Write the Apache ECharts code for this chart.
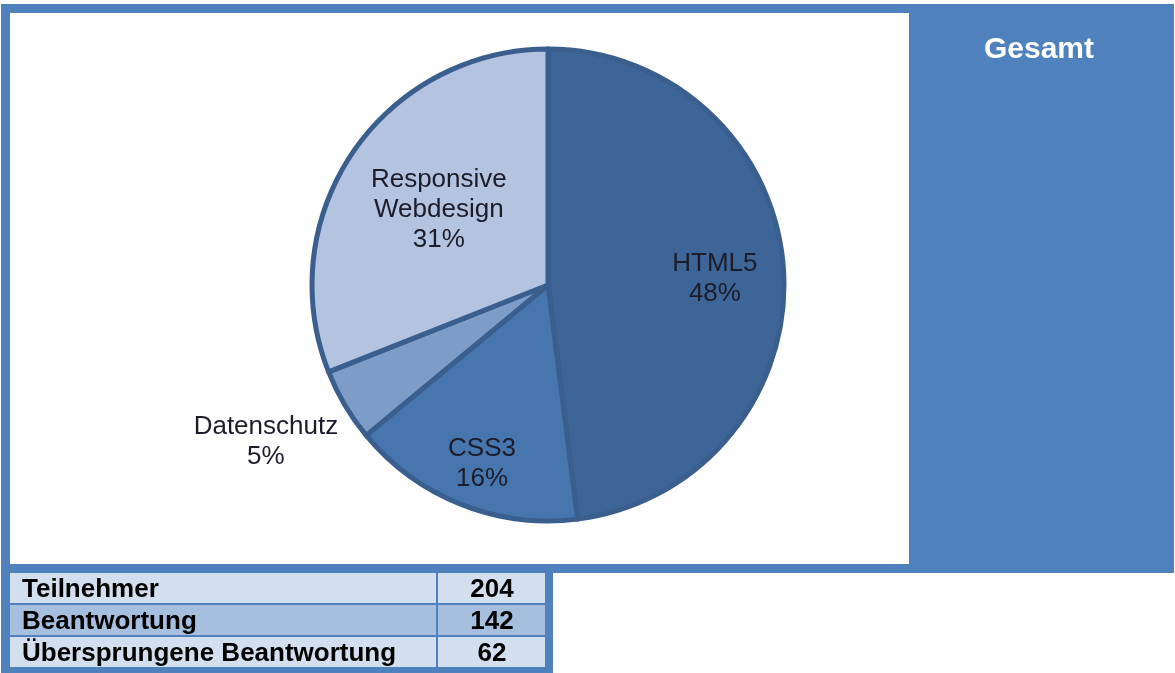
<!DOCTYPE html>
<html>
<head>
<meta charset="utf-8">
<title>Gesamt</title>
<script src="https://cdn.jsdelivr.net/npm/echarts@6/dist/echarts.min.js"></script>
<style>
  html, body { margin: 0; padding: 0; background: #ffffff; }
  #chart { width: 1175px; height: 673px; }
</style>
</head>
<body>
<div id="chart"></div>
<script>
// Survey topics and their share of the answers (percent)
const categories = ['HTML5', 'CSS3', 'Datenschutz', 'Responsive Webdesign'];
const shares = [48, 16, 5, 31];

// Summary table below the chart
const tableLabels = ['Teilnehmer', 'Beantwortung', 'Übersprungene Beantwortung'];
const tableValues = [204, 142, 62];

const panelTitle = 'Gesamt';

// Styling
const FONT = '"Liberation Sans", Arial, Helvetica, sans-serif';
const frameBlue = '#4F81BD';
const sliceColors = ['#3E6597', '#4776AE', '#7E9CC8', '#B4C3DF'];
const sliceBorder = '#3A5E8E';
const rowColors = ['#D3DFEE', '#A7BFDE', '#D3DFEE'];
const pieCenter = [548, 285];
const pieRadius = 236;
// label placement: distance from the centre (fraction of radius) and a small turn (degrees) off the slice's mid angle
const labelRadius = [0.708, 0.80, 1.364, 0.566];
const labelTurn = [0.9, -1.15, 1.8, 1.0];
const labelBaselineShift = 2;

// mid angle of each slice, measured clockwise from 12 o'clock
const total = shares.reduce(function (a, b) { return a + b; }, 0);
const midAngles = [];
shares.reduce(function (cum, s) {
  midAngles.push((cum + s / 2) / total * 360);
  return cum + s;
}, 0);

const chart = echarts.init(document.getElementById('chart'), null, { renderer: 'canvas' });

// Frame, white plot area and side panel
const graphics = [
  { type: 'rect', z: -20, shape: { x: 1, y: 4, width: 1173, height: 569 }, style: { fill: frameBlue } },
  { type: 'rect', z: -19, shape: { x: 10, y: 13, width: 899, height: 551 }, style: { fill: '#ffffff' } },
  {
    type: 'text', z: 10, x: 1039, y: 50,
    style: { text: panelTitle, fill: '#ffffff', font: 'bold 30px ' + FONT, align: 'center', verticalAlign: 'middle' }
  },
  // table frame
  { type: 'rect', z: -20, shape: { x: 1, y: 570, width: 552, height: 103 }, style: { fill: frameBlue } }
];

const rowTop = 573, rowH = 30, rowGap = 2;
tableLabels.forEach(function (label, i) {
  const y = rowTop + i * (rowH + rowGap);
  graphics.push(
    { type: 'rect', z: -18, shape: { x: 10, y: y, width: 426, height: rowH }, style: { fill: rowColors[i] } },
    { type: 'rect', z: -18, shape: { x: 438, y: y, width: 107, height: rowH }, style: { fill: rowColors[i] } },
    {
      type: 'text', z: 10, x: 22, y: y + rowH / 2 + 1.5,
      style: { text: label, fill: '#000000', font: 'bold 26px ' + FONT, align: 'left', verticalAlign: 'middle' }
    },
    {
      type: 'text', z: 10, x: 492, y: y + rowH / 2 + 1.5,
      style: { text: String(tableValues[i]), fill: '#000000', font: 'bold 26px ' + FONT, align: 'center', verticalAlign: 'middle' }
    }
  );
});

const option = {
  animation: false,
  backgroundColor: '#ffffff',
  graphic: { elements: graphics },
  series: [{
    type: 'pie',
    center: pieCenter,
    radius: [0, pieRadius],
    startAngle: 90,
    clockwise: true,
    percentPrecision: 0,
    silent: true,
    emphasis: { disabled: true },
    itemStyle: { borderColor: sliceBorder, borderWidth: 5 },
    label: {
      show: true,
      position: 'inside',
      color: '#1c1c2a',
      fontFamily: FONT,
      fontSize: 26,
      lineHeight: 30,
      align: 'center',
      verticalAlign: 'middle',
      formatter: function (p) {
        return p.name.replace(' ', '\n') + '\n' + Math.round(p.percent) + '%';
      }
    },
    labelLine: { show: false },
    labelLayout: function (p) {
      const i = p.dataIndex;
      const a = (midAngles[i] + labelTurn[i]) * Math.PI / 180;
      const r = labelRadius[i] * pieRadius;
      return {
        x: pieCenter[0] + r * Math.sin(a),
        y: pieCenter[1] - r * Math.cos(a) + labelBaselineShift
      };
    },
    data: categories.map(function (name, i) {
      return { name: name, value: shares[i], itemStyle: { color: sliceColors[i] } };
    })
  }]
};

chart.setOption(option);
</script>
</body>
</html>
